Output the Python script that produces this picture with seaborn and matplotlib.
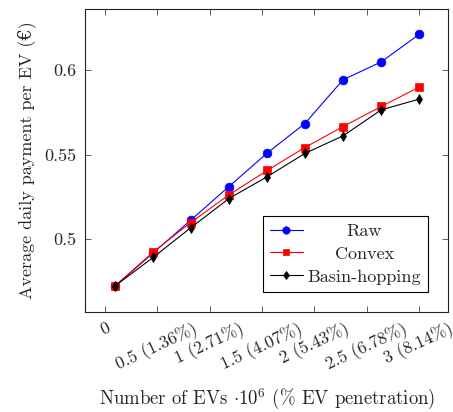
import numpy as np
import pandas as pd
import matplotlib
matplotlib.use("Agg")
import matplotlib.pyplot as plt
import seaborn as sns

# ---- data ----
evs = [0.10, 0.46, 0.82, 1.185, 1.55, 1.91, 2.275, 2.64, 3.0]
raw = [0.4724, 0.4917, 0.5112, 0.5311, 0.5509, 0.5684, 0.5943, 0.6049, 0.6211]
convex = [0.4724, 0.4923, 0.5098, 0.5262, 0.5406, 0.5542, 0.5666, 0.5785, 0.5899]
basin = [0.4724, 0.4891, 0.5067, 0.5240, 0.5369, 0.5507, 0.5611, 0.5765, 0.5828]
series_names = ["Raw", "Convex", "Basin-hopping"]
xtick_vals = [0, 0.5, 1, 1.5, 2, 2.5, 3]
xtick_labels = ["0", "0.5 (1.36%)", "1 (2.71%)", "1.5 (4.07%)", "2 (5.43%)",
                "2.5 (6.78%)", "3 (8.14%)"]
ytick_vals = [0.5, 0.55, 0.6]
ytick_labels = ["0.5", "0.55", "0.6"]

df = pd.DataFrame({
    "x": evs * 3,
    "y": raw + convex + basin,
    "method": [series_names[0]] * len(evs) + [series_names[1]] * len(evs) + [series_names[2]] * len(evs),
})

sns.set_theme(style="ticks")
plt.rcParams["font.family"] = ["cmr10", "DejaVu Serif"]
plt.rcParams["mathtext.fontset"] = "cm"
plt.rcParams["axes.unicode_minus"] = False
plt.rcParams["axes.formatter.use_mathtext"] = True

FS = 13
DPI = 100
fig = plt.figure(figsize=(4.53, 4.12), dpi=DPI)
ax = fig.add_axes([0.1876, 0.2434, 0.9896 - 0.1876, 0.9774 - 0.2434])

palette = {"Raw": "#0000ff", "Convex": "#ff0000", "Basin-hopping": "#000000"}
markers = {"Raw": "o", "Convex": "s", "Basin-hopping": "d"}
sns.lineplot(data=df, x="x", y="y", hue="method", style="method",
             palette=palette, markers=markers, dashes=False,
             linewidth=0.8, markersize=6.3, markeredgewidth=0.5, ax=ax)
for line in ax.lines:
    line.set_markeredgecolor(line.get_color())
    if line.get_marker() == "d":
        line.set_markersize(5.3)
    if line.get_marker() == "s":
        line.set_markersize(5.8)

ax.set_xlim(-0.19, 3.28)
ax.set_ylim(0.457, 0.636)
ax.set_xticks(xtick_vals)
ax.set_xticklabels(xtick_labels, rotation=25, ha="center", va="top",
                   rotation_mode="default", fontsize=12.6)
ax.set_yticks(ytick_vals)
ax.set_yticklabels(ytick_labels, fontsize=FS)
ax.tick_params(direction="in", top=True, right=True, length=4, width=0.6,
               color="#444444", pad=6)
ax.tick_params(axis="x", pad=6)
for s in ax.spines.values():
    s.set_linewidth(0.8)
    s.set_color("#222222")

ax.set_xlabel(r"Number of EVs $\cdot 10^6$ (% EV penetration)", fontsize=13.5, labelpad=9)
ax.set_ylabel("Average daily payment per EV (€)", fontsize=FS, labelpad=6)

leg = ax.legend(loc="lower right", fontsize=FS, frameon=True, fancybox=False,
                edgecolor="black", framealpha=1, borderaxespad=1.1,
                handlelength=1.85, handletextpad=0.25, labelspacing=0.4,
                borderpad=0.4, markerscale=0.85)
leg.get_frame().set_linewidth(0.8)

# center legend labels
fig.canvas.draw()
renderer = fig.canvas.get_renderer()
texts = leg.get_texts()
widths = [t.get_window_extent(renderer).width for t in texts]
maxw = max(widths)
for t, w in zip(texts, widths):
    t.set_position(((maxw - w) / 2.0, 0))

fig.savefig("out.png", dpi=DPI)
